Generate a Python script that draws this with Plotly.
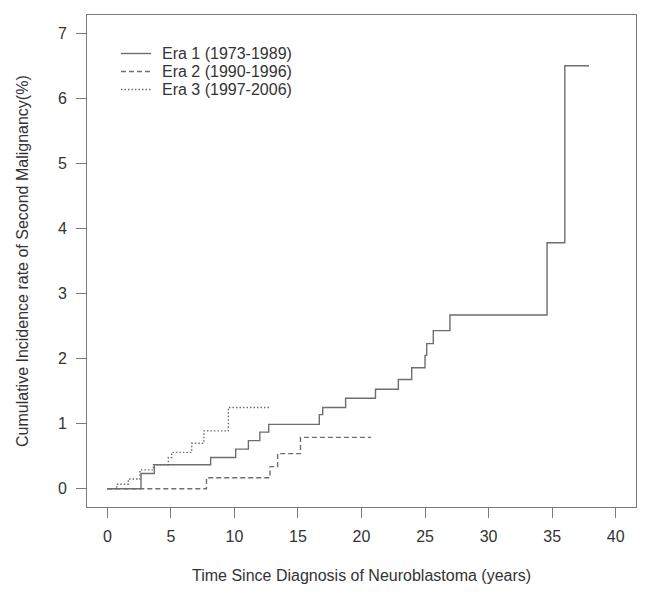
import plotly.graph_objects as go

# Step-function data (time in years, cumulative incidence %)
era1_t = [0, 2.65, 3.7, 8.13, 10.1, 11.1, 12.0, 12.7, 16.68, 16.95, 18.75, 21.1,
          22.9, 23.95, 25.0, 25.13, 25.65, 26.96, 34.6, 36.0, 37.9]
era1_v = [0, 0.235, 0.37, 0.48, 0.61, 0.74, 0.87, 0.99, 1.14, 1.25, 1.39, 1.53,
          1.68, 1.86, 2.05, 2.23, 2.43, 2.67, 3.78, 6.5, 6.5]

era2_t = [0, 7.8, 12.8, 13.4, 15.2, 20.75]
era2_v = [0, 0.17, 0.34, 0.54, 0.79, 0.79]

era3_t = [0, 0.74, 1.65, 2.57, 3.62, 4.8, 5.06, 6.64, 7.6, 9.52, 12.8]
era3_v = [0, 0.07, 0.15, 0.29, 0.37, 0.48, 0.56, 0.70, 0.89, 1.25, 1.25]

names = ["Era 1 (1973-1989)", "Era 2 (1990-1996)", "Era 3 (1997-2006)"]
dashes = ["solid", "5px,3px", "1.5px,2px"]
x_ticks = [0, 5, 10, 15, 20, 25, 30, 35, 40]
y_ticks = [0, 1, 2, 3, 4, 5, 6, 7]

LINE = "#6e6e6e"
TEXT = "#333333"
AX = "#7a7a7a"
FONT = "Liberation Sans, Arial, sans-serif"
FS = 16

# page body has an 8px margin, so the figure is 8px smaller than the window
W, H = 641, 588
ML, MR, MT, MB = 79, 13, 7, 89
PW, PH = W - ML - MR, H - MT - MB

fig = go.Figure()
for t, v, nm, d in zip([era1_t, era2_t, era3_t], [era1_v, era2_v, era3_v], names, dashes):
    fig.add_trace(go.Scatter(x=t, y=v, mode="lines", line_shape="hv", name=nm,
                             showlegend=False,
                             line=dict(color=LINE, width=1.4, dash=d)))

# manual legend (R-style, tight row spacing)
leg_x0, leg_x1, leg_tx = 113, 143, 152   # figure px
leg_rows = [45.5, 63.5, 81.5]
for nm, d, fy in zip(names, dashes, leg_rows):
    yp = (H - MB - fy) / PH
    fig.add_shape(type="line", xref="paper", yref="paper",
                  x0=(leg_x0 - ML) / PW, x1=(leg_x1 - ML) / PW, y0=yp, y1=yp,
                  line=dict(color=LINE, width=1.4, dash=d))
    fig.add_annotation(text=nm, xref="paper", yref="paper",
                       x=(leg_tx - ML) / PW, y=yp, xanchor="left", yanchor="middle",
                       showarrow=False, font=dict(size=FS, color=TEXT))

fig.update_layout(
    width=W, height=H, autosize=False,
    margin=dict(l=ML, r=MR, t=MT, b=MB),
    paper_bgcolor="white", plot_bgcolor="white",
    font=dict(family=FONT, size=FS, color=TEXT),
    showlegend=False,
)
fig.update_xaxes(range=[-1.6, 41.6], tickvals=x_ticks, ticktext=[str(v) for v in x_ticks],
                 showgrid=False, zeroline=False, showline=True, linecolor=AX, linewidth=1,
                 mirror=True, ticks="outside", ticklen=10, tickcolor=AX, tickwidth=1,
                 ticklabelstandoff=5, tickfont=dict(size=FS, color=TEXT))
fig.update_yaxes(range=[-0.28, 7.28], tickvals=y_ticks, ticktext=[str(v) for v in y_ticks],
                 showgrid=False, zeroline=False, showline=True, linecolor=AX, linewidth=1,
                 mirror=True, ticks="outside", ticklen=10, tickcolor=AX, tickwidth=1,
                 ticklabelstandoff=6, tickfont=dict(size=FS, color=TEXT))

fig.add_annotation(text="Time Since Diagnosis of Neuroblastoma (years)", xref="paper", yref="paper",
                   x=0.5, y=-68 / PH, xanchor="center", yanchor="middle", showarrow=False,
                   font=dict(size=FS, color=TEXT))
fig.add_annotation(text="Cumulative Incidence rate of Second Malignancy(%)", xref="paper", yref="paper",
                   x=-65 / PW, y=0.5, xanchor="center", yanchor="middle", showarrow=False,
                   textangle=-90, font=dict(size=FS, color=TEXT))

fig.write_html("out.html")
